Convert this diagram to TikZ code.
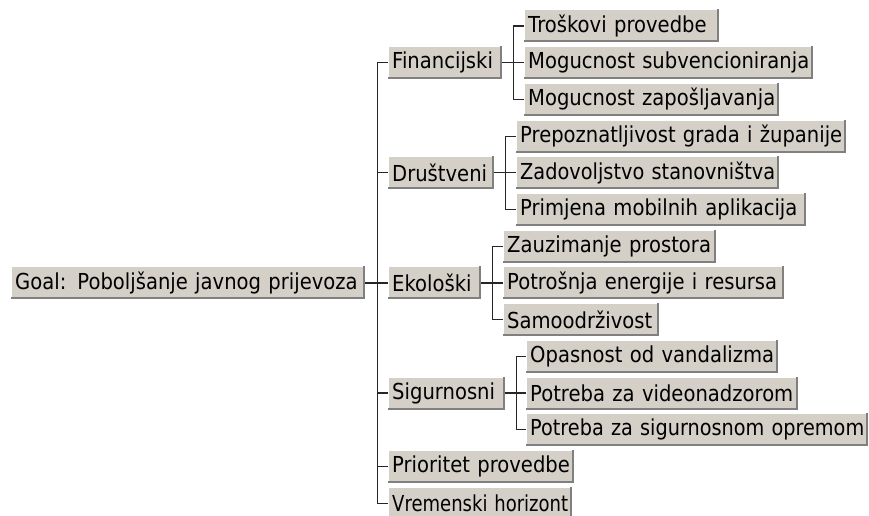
\documentclass[tikz,border=0pt]{standalone}
\usepackage{graphicx}
\usepackage{fontspec}
\setmainfont{DejaVu Sans}[FakeStretch=0.89]
\definecolor{btnface}{HTML}{D4D0C8}
\definecolor{btnshadow}{HTML}{808080}
\newsavebox{\fitbox}
\newcommand{\fitline}[1]{\sbox{\fitbox}{#1}%
  \ifdim\wd\fitbox>\linewidth\resizebox{\linewidth}{\height}{#1}\else\usebox{\fitbox}\fi}
\tikzset{
  btn/.style={rectangle, fill=btnface, inner xsep=4pt, inner ysep=0pt,
    minimum height=33pt, text width=#1, align=left, anchor=west,
    font=\fontsize{22}{24}\selectfont, text=black,
    path picture={
      \draw[white, line width=1pt]
        ([shift={(0.5pt,1pt)}]path picture bounding box.south west) --
        ([shift={(0.5pt,-0.5pt)}]path picture bounding box.north west) --
        ([shift={(-1pt,-0.5pt)}]path picture bounding box.north east);
      \draw[btnshadow, line width=2pt]
        ([shift={(0pt,1pt)}]path picture bounding box.south west) --
        ([shift={(-1pt,1pt)}]path picture bounding box.south east) --
        ([shift={(-1pt,0pt)}]path picture bounding box.north east);
    }},
  conn/.style={draw=black!85, line width=1.2pt}
}
\begin{document}
\begin{tikzpicture}[x=1pt,y=-1pt]
\useasboundingbox (0,0) rectangle (869,516);
% rows
\def\rowy#1{\fpeval{26+36.7*#1}}
\node[btn=346] (goal) at (11,{\rowy{7}}) {\fitline{Goal: Poboljšanje javnog prijevoza}};
\node[btn=106] (fin) at (388,{\rowy{1}}) {\fitline{Financijski}};
\node[btn=98]  (dru) at (388,{\rowy{4}}) {\fitline{Društveni}};
\node[btn=85]  (eko) at (388,{\rowy{7}}) {\fitline{Ekološki}};
\node[btn=109] (sig) at (388,{\rowy{10}}) {\fitline{Sigurnosni}};
\node[btn=178] (pri) at (388,{\rowy{12}}) {\fitline{Prioritet provedbe}};
\node[btn=176] (vre) at (388,{\rowy{13}}) {\fitline{Vremenski horizont}};
\node[btn=187] (tros) at (524,{\rowy{0}}) {\fitline{Troškovi provedbe}};
\node[btn=281] (mogs) at (524,{\rowy{1}}) {\fitline{Mogucnost subvencioniranja}};
\node[btn=247] (mogz) at (524,{\rowy{2}}) {\fitline{Mogucnost zapošljavanja}};
\node[btn=322] (prep) at (516,{\rowy{3}}) {\fitline{Prepoznatljivost grada i županije}};
\node[btn=255] (zad)  at (516,{\rowy{4}}) {\fitline{Zadovoljstvo stanovništva}};
\node[btn=282] (prim) at (516,{\rowy{5}}) {\fitline{Primjena mobilnih aplikacija}};
\node[btn=205] (zau)  at (503,{\rowy{6}}) {\fitline{Zauzimanje prostora}};
\node[btn=273] (potr) at (503,{\rowy{7}}) {\fitline{Potrošnja energije i resursa}};
\node[btn=148] (samo) at (503,{\rowy{8}}) {\fitline{Samoodrživost}};
\node[btn=244] (opas) at (526,{\rowy{9}}) {\fitline{Opasnost od vandalizma}};
\node[btn=264] (vid)  at (526,{\rowy{10}}) {\fitline{Potreba za videonadzorom}};
\node[btn=334] (sigo) at (526,{\rowy{11}}) {\fitline{Potreba za sigurnosnom opremom}};
% trunk
\coordinate (trunk) at ([xshift=12pt]goal.east);
\draw[conn] (goal.east) -- (trunk);
\draw[conn] (fin.west -| trunk) -- (vre.west -| trunk);
\foreach \n in {fin,dru,eko,sig,pri,vre}
  \draw[conn] (\n.west -| trunk) -- (\n.west);
% branches
\foreach \p/\a/\b/\kids in {fin/tros/mogz/{tros,mogs,mogz},
                            dru/prep/prim/{prep,zad,prim},
                            eko/zau/samo/{zau,potr,samo},
                            sig/opas/sigo/{opas,vid,sigo}}{
  \coordinate (b\p) at ([xshift=11pt]\p.east);
  \draw[conn] (\p.east) -- (b\p);
  \draw[conn] (\a.west -| b\p) -- (\b.west -| b\p);
  \foreach \k in \kids
    \draw[conn] (\k.west -| b\p) -- (\k.west);
}
\end{tikzpicture}
\end{document}
